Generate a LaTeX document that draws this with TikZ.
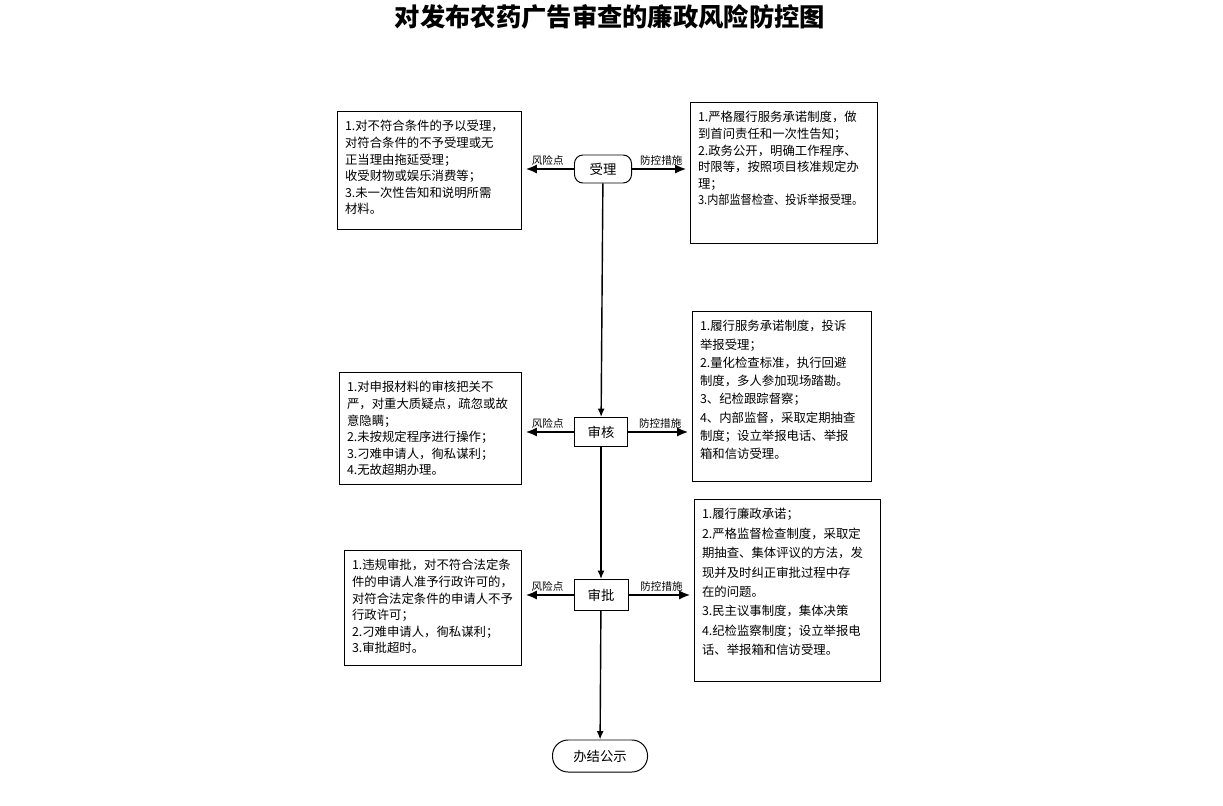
\documentclass[tikz,border=0pt]{standalone}
\usepackage{fontspec}
\setmainfont{Noto Sans CJK SC}
\XeTeXlinebreaklocale "zh"
\usetikzlibrary{arrows.meta}
\newcommand{\boxtext}[3]{\parbox[t][\dimexpr#2-12pt\relax][t]{\dimexpr#1-10pt\relax}{\raggedright #3}}

\begin{document}
\begin{tikzpicture}[x=0.025cm,y=-0.025cm,
    stepbox/.style={draw,line width=0.7pt,inner sep=0pt,font=\fontsize{9.5pt}{11pt}\selectfont},
    endbox/.style={stepbox,rounded corners=#1},
    textbox/.style={draw,line width=0.7pt,inner xsep=5pt,inner ysep=6pt,font=\fontsize{8.8pt}{#1}\selectfont},
    textbox/.default=11.8pt,
    flow/.style={-{Latex[length=6pt,width=5pt]},line width=1pt},
    side/.style={-{Latex[length=8pt,width=6.5pt]},line width=1.6pt,shorten >=0.1cm},
    tag/.style={above,font=\fontsize{7.5pt}{8pt}\selectfont,inner sep=2pt}]
\useasboundingbox (0,0) rectangle (1223,806);

\node (title) at (610,17) {\bfseries\fontsize{18pt}{20pt}\selectfont 对发布农药广告审查的廉政风险防控图};

% main steps
\node[endbox=6pt,minimum width=1.425cm,minimum height=0.7cm] (shouli) at (603,169) {受理};
\node[stepbox,minimum width=1.325cm,minimum height=0.725cm] (shenhe) at (601,432) {审核};
\node[stepbox,minimum width=1.35cm,minimum height=0.775cm] (shenpi) at (601,595) {审批};
\node[endbox=3.9mm,minimum width=2.375cm,minimum height=0.8cm] (gongshi) at (600,756) {办结公示};

% risks
\node[textbox] (riskA) at (429.5,170.5) {\boxtext{4.575cm}{2.925cm}{%
1.对不符合条件的予以受理，\\
对符合条件的不予受理或无\\
正当理由拖延受理；\\
收受财物或娱乐消费等；\\
3.未一次性告知和说明所需\\
材料。}};
\node[textbox] (riskB) at (430.5,428.5) {\boxtext{4.525cm}{2.775cm}{%
1.对申报材料的审核把关不\\
严，对重大质疑点，疏忽或故\\
意隐瞒；\\
2.未按规定程序进行操作；\\
3.刁难申请人，徇私谋利；\\
4.无故超期办理。}};
\node[textbox] (riskC) at (433,608) {\boxtext{4.4cm}{2.85cm}{%
1.违规审批，对不符合法定条\\
件的申请人准予行政许可的，\\
对符合法定条件的申请人不予\\
行政许可；\\
2.刁难申请人，徇私谋利；\\
3.审批超时。}};

% measures
\node[textbox] (ctrlA) at (784,173) {\boxtext{4.65cm}{3.5cm}{%
1.严格履行服务承诺制度，做\\
到首问责任和一次性告知；\\
2.政务公开，明确工作程序、\\
时限等，按照项目核准规定办\\
理；\\
\scalebox{0.9}[1]{3.内部监督检查、投诉举报受理。}}};
\node[textbox=13pt] (ctrlB) at (782,396.5) {\boxtext{4.45cm}{4.225cm}{%
1.履行服务承诺制度，投诉\\
举报受理；\\
2.量化检查标准，执行回避\\
制度，多人参加现场踏勘。\\
3、纪检跟踪督察；\\
4、内部监督，采取定期抽查\\
制度；设立举报电话、举报\\
箱和信访受理。}};
\node[textbox=13.8pt] (ctrlC) at (787.5,590.5) {\boxtext{4.625cm}{4.525cm}{%
1.履行廉政承诺；\\
2.严格监督检查制度，采取定\\
期抽查、集体评议的方法，发\\
现并及时纠正审批过程中存\\
在的问题。\\
3.民主议事制度，集体决策\\
4.纪检监察制度；设立举报电\\
话、举报箱和信访受理。}};

\draw[flow] (shouli) -- (shenhe);
\draw[flow] (shenhe) -- (shenpi);
\draw[flow] (shenpi) -- (gongshi);

\draw[side] (shouli.west) -- node[tag]{风险点} (shouli.west -| riskA.east);
\draw[side] (shouli.east) -- node[tag]{防控措施} (shouli.east -| ctrlA.west);
\draw[side] (shenhe.west) -- node[tag]{风险点} (shenhe.west -| riskB.east);
\draw[side] (shenhe.east) -- node[tag]{防控措施} (shenhe.east -| ctrlB.west);
\draw[side] (shenpi.west) -- node[tag]{风险点} (shenpi.west -| riskC.east);
\draw[side] (shenpi.east) -- node[tag]{防控措施} (shenpi.east -| ctrlC.west);
\end{tikzpicture}
\end{document}
